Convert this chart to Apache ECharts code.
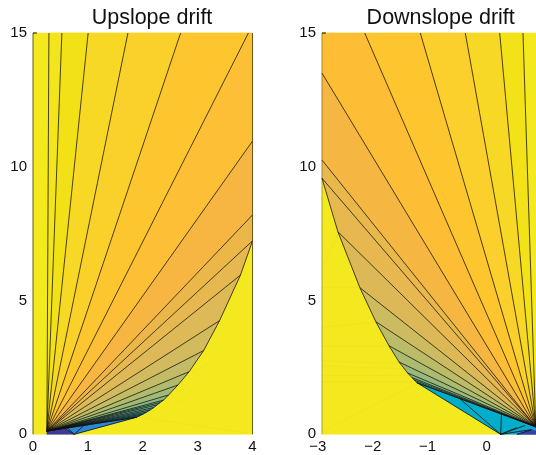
<!DOCTYPE html>
<html>
<head>
<meta charset="utf-8">
<style>html,body{margin:0;padding:0;background:#fff}#c{width:536px;height:455px}</style>
<script src="https://cdn.jsdelivr.net/npm/echarts@6/dist/echarts.min.js"></script>
</head>
<body>
<div id="c"></div>
<script>
const titles = ['Upslope drift', 'Downslope drift'];
const upXRange = [0, 4];
const downXRange = [-3, 1];
const yRange = [0, 15];
const bgYellow = '#f3e91e';

// Upslope fan: apex, rim points (end of each ray), band colours between rim points
const upApex = [0.253, 0.12];
const upRimX = [0.29, 0.526, 1.005, 1.73, 2.69, 3.925, 4, 4, 4, 4, 3.78, 3.40, 3.11, 2.845, 2.64, 2.47, 2.38, 2.32, 2.26, 2.2, 2.135, 2.07, 2.01, 1.95, 1.89];
const upRimY = [15, 15, 15, 15, 15, 15, 15, 10.96, 8.2, 7.23, 5.95, 4.25, 3.13, 2.34, 1.84, 1.47, 1.28, 1.19, 1.10, 1.0, 0.91, 0.83, 0.76, 0.70, 0.64];
const upIsRay = [1, 1, 1, 1, 1, 1, 0, 1, 1, 1, 1, 1, 1, 1, 1, 1, 1, 1, 1, 1, 1, 1, 1, 1, 1];
const upBands = ['#f2e51b', '#f3e118', '#f7d925', '#fad02b', '#fdc62f', '#fdbf36', '#fdbf36', '#f7b641', '#ecb749', '#e6b84f', '#deb957', '#d2ba5e', '#c3bb66', '#b1bb6e', '#9eba76', '#8ab884', '#7eb78c', '#70b596', '#62b3a0', '#55b1aa', '#48afb3', '#3cacbe', '#30a9c8', '#26a4d0'];
// Upslope patches along the floor
const upPatchX = [[0.253, 0.253, 0.56, 0.75], [0.56, 1.89, 0.75]];
const upPatchY = [[0, 0.12, 0.24, 0], [0.24, 0.64, 0]];
const upPatchColors = ['#3d3a9f', '#2a86d6'];
const upLinesX = [[0.75, 0.62], [0.75, 0.93], [0.75, 1.89], [0.253, 1.89], [0.56, 0.75]];
const upLinesY = [[0, 0.26], [0, 0.33], [0, 0.64], [0.12, 0.64], [0.24, 0]];
const upFaintX = [[2.0, 3.9], [2.4, 2.75], [2.9, 3.25], [3.15, 3.5], [3.5, 3.75], [2.7, 2.9]];
const upFaintY = [[0.62, 0.05], [1.5, 1.2], [2.3, 2.7], [3.2, 3.9], [4.5, 6.2], [1.9, 1.6]];

// Downslope fan
const downApex = [0.893, 0.28];
const downRimX = [0.661, 0.237, -0.39, -1.21, -2.222, -3, -3, -3, -3, -2.71, -2.31, -2.02, -1.78, -1.595, -1.44, -1.36, -1.32, -1.27];
const downRimY = [15, 15, 15, 15, 15, 15, 13.5, 10.25, 9.57, 7.57, 5.48, 4.21, 3.31, 2.70, 2.29, 2.12, 2.03, 1.93];
const downIsRay = [1, 1, 1, 1, 1, 0, 1, 1, 1, 1, 1, 1, 1, 1, 1, 1, 1, 1];
const downBands = ['#f3e217', '#f7d824', '#fbd02c', '#fdc62f', '#fdbe35', '#fdbe35', '#f6b642', '#e9b84b', '#e6b84f', '#dcb956', '#cdbb5f', '#bcbc68', '#abbb71', '#98b97b', '#85b888', '#72b590', '#5eb29e'];
const downPatchX = [[-1.27, 0.893, 0.893, 0.254], [0.254, 0.893, 0.893, 0.55], [0.55, 0.82, 0.9, 0.9]];
const downPatchY = [[1.93, 0.28, 0.1, 0], [0, 0.28, 0, 0], [0, 0.17, 0.12, 0]];
const downPatchColors = ['#00aecb', '#14a0d8', '#3c3fa6'];
const downLinesX = [[-1.27, 0.893], [-1.27, 0.254], [-0.49, 0.254], [0.27, 0.254], [0.254, 0.70], [0.254, 0.55], [0.254, 0.80], [0.55, 0.82]];
const downLinesY = [[1.93, 0.28], [1.93, 0], [1.33, 0], [0.78, 0], [0, 0.33], [0, 0.25], [0, 0.17], [0, 0.17]];
const downFaintX = [[-3, -1.72], [-3, -1.6], [-3, -1.5], [-3, -1.36], [-3, -1.36], [-3, -2.31], [-3, -2.0], [-3, -1.27], [-3, -2.71]];
const downFaintY = [[3.3, 3.3], [2.75, 2.65], [2.55, 2.45], [2.2, 2.2], [1.95, 1.95], [5.5, 5.5], [4.0, 4.2], [0.1, 1.9], [6.2, 7.5]];

function poly(pts, fill, stroke) { return { pts, fill, stroke: stroke || fill, lw: 0.5 }; }
function line(pts, stroke, lw, op) { return { pts, stroke, lw, op, open: true }; }
const dark = '#12100a';

function build(xr, apex, rx, ry, ray, bands, px, py, pc, lx, ly, fx, fy) {
  const items = [];
  items.push(poly([[xr[0], 0], [xr[1], 0], [xr[1], 15], [xr[0], 15]], bgYellow));
  bands.forEach((c, i) => {
    items.push(poly([apex, [rx[i], ry[i]], [rx[i + 1], ry[i + 1]]], c));
  });
  px.forEach((xs, i) => items.push(poly(xs.map((x, j) => [x, py[i][j]]), pc[i])));
  fx.forEach((xs, i) => items.push(line(xs.map((x, j) => [x, fy[i][j]]), '#e8705a', 0.7, 0.09)));
  rx.forEach((x, i) => { if (ray[i]) items.push(line([apex, [x, ry[i]]], dark, 0.9, 0.85)); });
  for (let i = 0; i < rx.length - 1; i++) {
    if (rx[i] !== rx[i + 1] && ry[i] !== ry[i + 1]) items.push(line([[rx[i], ry[i]], [rx[i + 1], ry[i + 1]]], dark, 0.9, 0.85));
  }
  lx.forEach((xs, i) => items.push(line(xs.map((x, j) => [x, ly[i][j]]), dark, 0.9, 0.9)));
  return items;
}

const upItems = build(upXRange, upApex, upRimX, upRimY, upIsRay, upBands, upPatchX, upPatchY, upPatchColors, upLinesX, upLinesY, upFaintX, upFaintY);
upItems.push(line([[0, 0], [0, 15]], '#3a3210', 1, 0.75), line([[4, 0], [4, 15]], '#3a3210', 1, 0.75), line([[0, 15], [0.07, 15]], '#000', 1, 1));
const downItems = build(downXRange, downApex, downRimX, downRimY, downIsRay, downBands, downPatchX, downPatchY, downPatchColors, downLinesX, downLinesY, downFaintX, downFaintY);
downItems.push(line([[-3, 0], [-3, 15]], '#3a3210', 1, 0.4), line([[-3, 15], [-2.93, 15]], '#000', 1, 1));

function series(idx, items) {
  return {
    type: 'custom', xAxisIndex: idx, yAxisIndex: idx, silent: true, clip: false, animation: false,
    data: items.map((_, i) => [i]),
    renderItem(params, api) {
      const it = items[params.dataIndex];
      const points = it.pts.map(p => api.coord(p));
      if (it.open) return { type: 'polyline', shape: { points }, style: { stroke: it.stroke, lineWidth: it.lw, opacity: it.op, fill: null } };
      return { type: 'polygon', shape: { points }, style: { fill: it.fill, stroke: it.stroke, lineWidth: it.lw } };
    }
  };
}

const font = 'Liberation Sans, Helvetica, Arial, sans-serif';
const label = { fontFamily: font, fontSize: 15, color: '#111' };
function xAxis(i, r, step) {
  return {
    type: 'value', gridIndex: i, min: r[0], max: r[1], interval: step, splitLine: { show: false },
    axisLine: { show: false }, axisTick: { show: false },
    axisLabel: Object.assign({}, label, { margin: 5, showMaxLabel: i === 0, formatter: v => v < 0 ? '\u2212' + (-v) + '  ' : String(v) })
  };
}
function yAxis(i) {
  return {
    type: 'value', gridIndex: i, min: yRange[0], max: yRange[1], interval: 5, splitLine: { show: false },
    axisLine: { show: false }, axisTick: { show: false },
    axisLabel: Object.assign({}, label, { margin: 6 })
  };
}

const chart = echarts.init(document.getElementById('c'), null, { renderer: 'canvas' });
const titleStyle = { fontFamily: font, fontSize: 21.5, fontWeight: 'normal', color: '#111' };
chart.setOption({
  animation: false,
  backgroundColor: '#fff',
  title: [
    { text: titles[0], left: 147, top: 2, textAlign: 'center', textStyle: titleStyle },
    { text: titles[1], left: 435.7, top: 2, textAlign: 'center', textStyle: titleStyle }
  ],
  grid: [
    { left: 33, top: 33, width: 219.5, height: 401.3, outerBoundsMode: 'none' },
    { left: 322, top: 33, width: 219.6, height: 401.3, outerBoundsMode: 'none' }
  ],
  xAxis: [xAxis(0, upXRange, 1), xAxis(1, downXRange, 1)],
  yAxis: [yAxis(0), yAxis(1)],
  series: [series(0, upItems), series(1, downItems)]
});
</script>
</body>
</html>
